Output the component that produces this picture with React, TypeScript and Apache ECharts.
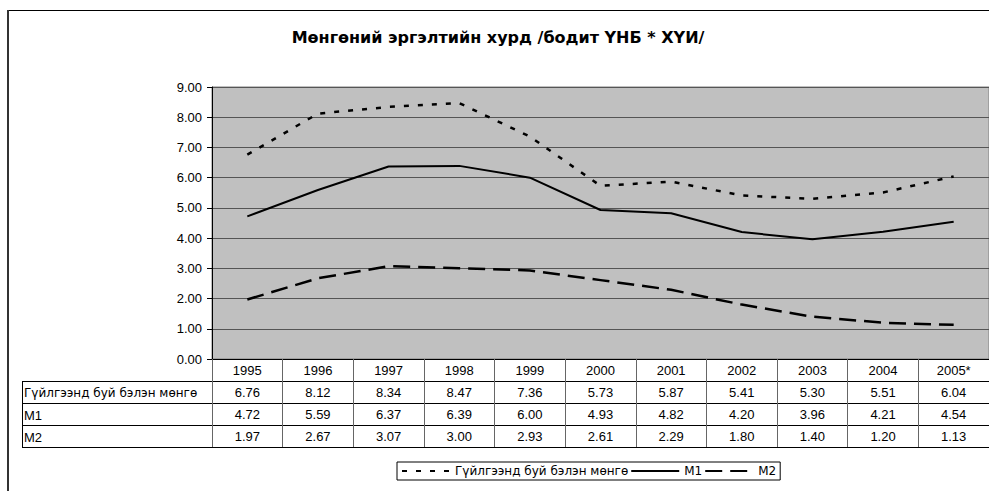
import React, { useEffect, useRef } from "react";
import * as echarts from "echarts";

const TITLE = "Мөнгөний эргэлтийн хурд /бодит ҮНБ * ХҮИ/";
const years = ["1995", "1996", "1997", "1998", "1999", "2000", "2001", "2002", "2003", "2004", "2005*"];
const seriesNames = ["Гүйлгээнд буй бэлэн мөнгө", "M1", "M2"];
const cash = [6.76, 8.12, 8.34, 8.47, 7.36, 5.73, 5.87, 5.41, 5.3, 5.51, 6.04];
const m1 = [4.72, 5.59, 6.37, 6.39, 6.0, 4.93, 4.82, 4.2, 3.96, 4.21, 4.54];
const m2 = [1.97, 2.67, 3.07, 3.0, 2.93, 2.61, 2.29, 1.8, 1.4, 1.2, 1.13];
const yTicks = [0, 1, 2, 3, 4, 5, 6, 7, 8, 9];

const FONT = "'Liberation Sans', Arial, sans-serif";
const CYR = "'DejaVu Sans', sans-serif";
const FS = 13;
const CFS = 12;

export default function App() {
  const ref = useRef<HTMLDivElement>(null);
  useEffect(() => {
    if (!ref.current) return;
    const chart = echarts.init(ref.current, undefined, { renderer: "svg" });
    const GL = 212, GT = 87, GH = 272, GW = 777;
    const ROW = 22;
    const rows = [cash, m1, m2];
    const tickStyle = { show: true, length: ROW, interval: 0, lineStyle: { color: "#666", width: 1 } };
    const valueAxes = rows.map((arr, r) => ({
      type: "category" as const,
      data: years,
      gridIndex: 0,
      position: "bottom" as const,
      offset: ROW * (r + 1),
      boundaryGap: true,
      axisLine: { show: true, lineStyle: { color: "#000", width: 1 } },
      axisTick: tickStyle,
      axisLabel: {
        show: true,
        interval: 0,
        margin: 5,
        color: "#000",
        fontSize: FS,
        fontFamily: FONT,
        formatter: (_v: string, i: number) => arr[i].toFixed(2),
      },
    }));
    const g: any[] = [];
    seriesNames.forEach((n, r) => {
      g.push({
        type: "text",
        x: 24,
        y: GT + GH + ROW * (r + 1) + ROW / 2 + 1,
        style: {
          text: n,
          fill: "#000",
          font: `${r === 0 ? CFS : FS}px ${r === 0 ? CYR : FONT}`,
          textVerticalAlign: "middle",
        },
      });
    });
    [1, 2, 3, 4].forEach((k) => {
      g.push({
        type: "line",
        shape: { x1: 22, y1: GT + GH + ROW * k + 0.5, x2: GL, y2: GT + GH + ROW * k + 0.5 },
        style: { stroke: "#000", lineWidth: 1 },
      });
    });
    g.push({
      type: "line",
      shape: { x1: 22.5, y1: GT + GH + ROW, x2: 22.5, y2: GT + GH + ROW * 4 },
      style: { stroke: "#000", lineWidth: 1 },
    });
    g.push({
      type: "line",
      shape: { x1: 8, y1: 10.5, x2: 989, y2: 10.5 },
      style: { stroke: "#000", lineWidth: 1 },
    });
    g.push({
      type: "line",
      shape: { x1: 8, y1: 10, x2: 8, y2: 491 },
      style: { stroke: "#333", lineWidth: 2 },
    });
    g.push({
      type: "text",
      x: 498,
      y: 37,
      style: {
        text: TITLE,
        fill: "#000",
        font: `bold 16px ${CYR}`,
        textAlign: "center",
        textVerticalAlign: "middle",
      },
    });

    chart.setOption({
      animation: false,
      backgroundColor: "#fff",
      grid: {
        left: GL,
        top: GT,
        width: GW,
        height: GH,
        show: true,
        backgroundColor: "#C0C0C0",
        borderColor: "#808080",
        borderWidth: 1,
      },
      legend: {
        data: seriesNames,
        left: 397,
        top: 462,
        orient: "horizontal",
        itemWidth: 48,
        itemHeight: 10,
        itemGap: 2,
        padding: [3, 4, 3, 4],
        borderColor: "#000",
        borderWidth: 1,
        backgroundColor: "#fff",
        itemStyle: { opacity: 0 },
        textStyle: { fontSize: CFS, color: "#000", fontFamily: CYR },
      },
      xAxis: [
        {
          type: "category",
          data: years,
          gridIndex: 0,
          position: "bottom",
          boundaryGap: true,
          axisLine: { show: true, lineStyle: { color: "#000", width: 1 } },
          axisTick: tickStyle,
          axisLabel: { show: true, interval: 0, margin: 5, color: "#000", fontSize: FS, fontFamily: FONT },
        },
        ...valueAxes,
        {
          type: "category",
          data: years,
          gridIndex: 0,
          position: "bottom",
          offset: ROW * 4,
          axisLine: { show: true, lineStyle: { color: "#000", width: 1 } },
          axisTick: { show: false },
          axisLabel: { show: false },
        },
      ],
      yAxis: {
        type: "value",
        min: 0,
        max: 9,
        interval: 1,
        axisLine: { show: true, lineStyle: { color: "#000", width: 1 } },
        axisTick: { show: true, length: 5, lineStyle: { color: "#000" } },
        axisLabel: {
          margin: 10,
          color: "#000",
          fontSize: FS,
          fontFamily: FONT,
          formatter: (v: number) => (yTicks.includes(v) ? v.toFixed(2) : ""),
        },
        splitLine: { show: true, lineStyle: { color: "#555", width: 1 } },
      },
      series: [
        {
          name: seriesNames[0],
          type: "line",
          data: cash,
          symbol: "none",
          lineStyle: { color: "#000", width: 2.5, type: [5, 9] },
          itemStyle: { color: "#000", opacity: 0 },
        },
        {
          name: seriesNames[1],
          type: "line",
          data: m1,
          symbol: "none",
          lineStyle: { color: "#000", width: 2 },
          itemStyle: { color: "#000", opacity: 0 },
        },
        {
          name: seriesNames[2],
          type: "line",
          data: m2,
          symbol: "none",
          lineStyle: { color: "#000", width: 2.5, type: [17, 8] },
          itemStyle: { color: "#000", opacity: 0 },
        },
      ],
      graphic: g,
    });
    return () => chart.dispose();
  }, []);
  return (
    <div
      ref={ref}
      style={{ position: "fixed", left: 0, top: 0, width: 989, height: 491 }}
    />
  );
}
